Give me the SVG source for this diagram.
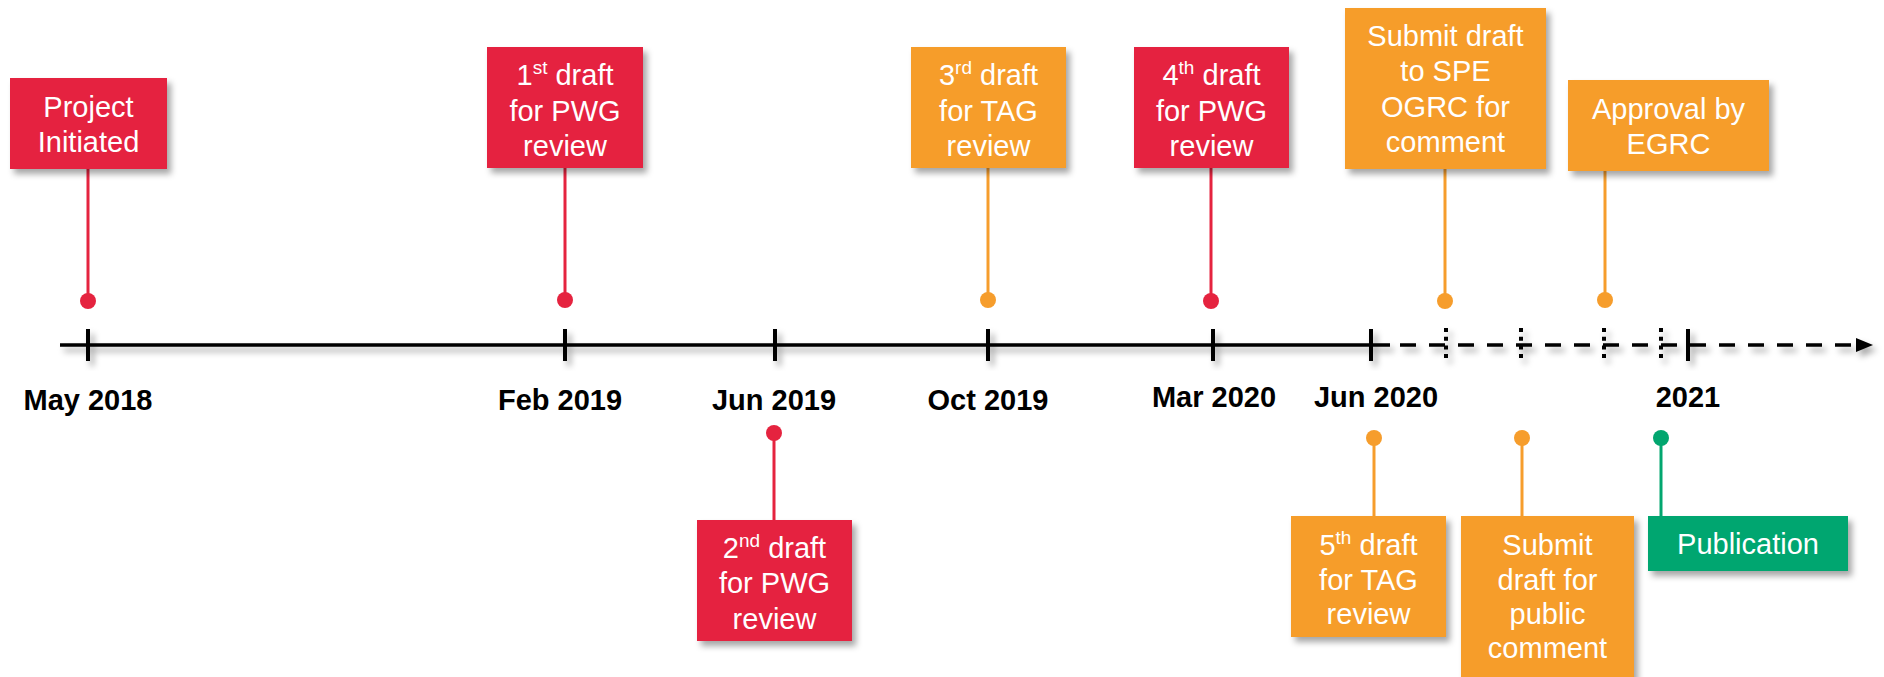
<svg xmlns="http://www.w3.org/2000/svg" width="1884" height="677" viewBox="0 0 1884 677">
<defs>
<filter id="sh" x="-20%" y="-20%" width="140%" height="150%">
<feDropShadow dx="4" dy="5" stdDeviation="3" flood-color="#000" flood-opacity="0.35"/>
</filter>
<style>
.red{fill:#E5233F}
.org{fill:#F69D2C}
.grn{fill:#02A66F}
.box{filter:url(#sh)}
.bt{font-family:"Liberation Sans",Arial,sans-serif;font-size:29px;fill:#fff;text-anchor:middle}
.lab{font-family:"Liberation Sans",Arial,sans-serif;font-size:29px;font-weight:bold;fill:#000;text-anchor:middle}
.sup{font-size:19px}
.lr{stroke:#E5233F;stroke-width:3}
.lo{stroke:#F69D2C;stroke-width:3}
.lg{stroke:#02A66F;stroke-width:3}
.tick{stroke:#000;stroke-width:4}
.dtick{stroke:#000;stroke-width:4;stroke-dasharray:4 4.7}
</style>
</defs>
<rect width="1884" height="677" fill="#fff"/>

<g id="axis" filter="url(#sh)">
<line x1="60" y1="345" x2="1390" y2="345" stroke="#000" stroke-width="3.5"/>
<line x1="1400" y1="345" x2="1858" y2="345" stroke="#000" stroke-width="3.5" stroke-dasharray="16 13"/>
<polygon points="1856,338 1873,345 1856,352" fill="#000"/>
<line class="tick" x1="88" y1="329" x2="88" y2="361"/>
<line class="tick" x1="565" y1="329" x2="565" y2="361"/>
<line class="tick" x1="775" y1="329" x2="775" y2="361"/>
<line class="tick" x1="988" y1="329" x2="988" y2="361"/>
<line class="tick" x1="1213" y1="329" x2="1213" y2="361"/>
<line class="tick" x1="1371" y1="329" x2="1371" y2="361"/>
<line class="tick" x1="1688" y1="329" x2="1688" y2="361"/>
<line class="dtick" x1="1446" y1="328" x2="1446" y2="360"/>
<line class="dtick" x1="1521" y1="328" x2="1521" y2="360"/>
<line class="dtick" x1="1604" y1="328" x2="1604" y2="360"/>
<line class="dtick" x1="1661" y1="328" x2="1661" y2="360"/>
</g>

<g id="axis-labels">
<text class="lab" x="88" y="410">May 2018</text>
<text class="lab" x="560" y="410">Feb 2019</text>
<text class="lab" x="774" y="410">Jun 2019</text>
<text class="lab" x="988" y="410">Oct 2019</text>
<text class="lab" x="1214" y="407">Mar 2020</text>
<text class="lab" x="1376" y="407">Jun 2020</text>
<text class="lab" x="1688" y="407">2021</text>
</g>

<g id="connectors">
<line class="lr" x1="88" y1="168" x2="88" y2="300"/><circle class="red" cx="88" cy="301" r="8"/>
<line class="lr" x1="565" y1="167" x2="565" y2="300"/><circle class="red" cx="565" cy="300" r="8"/>
<line class="lo" x1="988" y1="167" x2="988" y2="300"/><circle class="org" cx="988" cy="300" r="8"/>
<line class="lr" x1="1211" y1="167" x2="1211" y2="300"/><circle class="red" cx="1211" cy="301" r="8"/>
<line class="lo" x1="1445" y1="168" x2="1445" y2="300"/><circle class="org" cx="1445" cy="301" r="8"/>
<line class="lo" x1="1605" y1="170" x2="1605" y2="300"/><circle class="org" cx="1605" cy="300" r="8"/>
<line class="lr" x1="774" y1="433" x2="774" y2="521"/><circle class="red" cx="774" cy="433" r="8"/>
<line class="lo" x1="1374" y1="438" x2="1374" y2="517"/><circle class="org" cx="1374" cy="438" r="8"/>
<line class="lo" x1="1522" y1="438" x2="1522" y2="517"/><circle class="org" cx="1522" cy="438" r="8"/>
<line class="lg" x1="1661" y1="438" x2="1661" y2="517"/><circle class="grn" cx="1661" cy="438" r="8"/>
</g>

<g id="node-project-initiated">
<rect class="red box" x="10" y="78" width="157" height="91"/>
<text class="bt" x="88.5" y="117">Project</text>
<text class="bt" x="88.5" y="152">Initiated</text>
</g>

<g id="node-1st-draft">
<rect class="red box" x="487" y="47" width="156" height="121"/>
<text class="bt" x="565" y="85"><tspan>1</tspan><tspan class="sup" dy="-11">st</tspan><tspan dy="11"> draft</tspan></text>
<text class="bt" x="565" y="121">for PWG</text>
<text class="bt" x="565" y="156">review</text>
</g>

<g id="node-3rd-draft">
<rect class="org box" x="911" y="47" width="155" height="121"/>
<text class="bt" x="988.5" y="85"><tspan>3</tspan><tspan class="sup" dy="-11">rd</tspan><tspan dy="11"> draft</tspan></text>
<text class="bt" x="988.5" y="121">for TAG</text>
<text class="bt" x="988.5" y="156">review</text>
</g>

<g id="node-4th-draft">
<rect class="red box" x="1134" y="47" width="155" height="121"/>
<text class="bt" x="1211.5" y="85"><tspan>4</tspan><tspan class="sup" dy="-11">th</tspan><tspan dy="11"> draft</tspan></text>
<text class="bt" x="1211.5" y="121">for PWG</text>
<text class="bt" x="1211.5" y="156">review</text>
</g>

<g id="node-submit-spe">
<rect class="org box" x="1345" y="8" width="201" height="161"/>
<text class="bt" x="1445.5" y="46">Submit draft</text>
<text class="bt" x="1445.5" y="81">to SPE</text>
<text class="bt" x="1445.5" y="117">OGRC for</text>
<text class="bt" x="1445.5" y="152">comment</text>
</g>

<g id="node-approval">
<rect class="org box" x="1568" y="80" width="201" height="91"/>
<text class="bt" x="1668.5" y="119">Approval by</text>
<text class="bt" x="1668.5" y="154">EGRC</text>
</g>

<g id="node-2nd-draft">
<rect class="red box" x="697" y="520" width="155" height="121"/>
<text class="bt" x="774.5" y="558"><tspan>2</tspan><tspan class="sup" dy="-11">nd</tspan><tspan dy="11"> draft</tspan></text>
<text class="bt" x="774.5" y="593">for PWG</text>
<text class="bt" x="774.5" y="629">review</text>
</g>

<g id="node-5th-draft">
<rect class="org box" x="1291" y="516" width="155" height="121"/>
<text class="bt" x="1368.5" y="555"><tspan>5</tspan><tspan class="sup" dy="-11">th</tspan><tspan dy="11"> draft</tspan></text>
<text class="bt" x="1368.5" y="590">for TAG</text>
<text class="bt" x="1368.5" y="624">review</text>
</g>

<g id="node-submit-public">
<rect class="org box" x="1461" y="516" width="173" height="170"/>
<text class="bt" x="1547.5" y="555">Submit</text>
<text class="bt" x="1547.5" y="590">draft for</text>
<text class="bt" x="1547.5" y="624">public</text>
<text class="bt" x="1547.5" y="658">comment</text>
</g>

<g id="node-publication">
<rect class="grn box" x="1648" y="516" width="200" height="55"/>
<text class="bt" x="1748" y="554">Publication</text>
</g>
</svg>
